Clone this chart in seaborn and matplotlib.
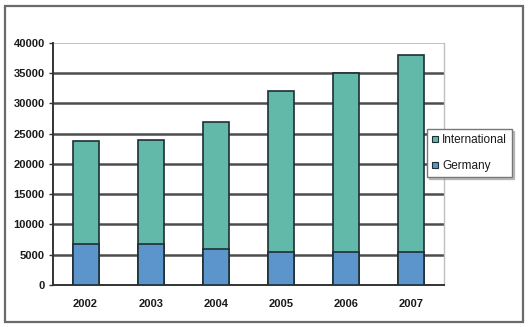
import matplotlib
matplotlib.use("Agg")
import matplotlib.pyplot as plt
from matplotlib.lines import Line2D
from matplotlib.patches import Rectangle
import seaborn as sns
import pandas as pd

years = ["2002", "2003", "2004", "2005", "2006", "2007"]
germany = [6800, 6800, 5900, 5400, 5400, 5400]
international = [16900, 17200, 21000, 26600, 29600, 32600]
series_names = ["International", "Germany"]
y_ticks = [0, 5000, 10000, 15000, 20000, 25000, 30000, 35000, 40000]

teal = "#62b9a9"
blue = "#5b95cb"
edge = "#1e2f33"

sns.set_style("white")
plt.rcParams['font.family'] = ['Liberation Sans', 'DejaVu Sans']

df = pd.DataFrame({"year": years, "germany": germany, "international": international})
df["total"] = df["germany"] + df["international"]

fig = plt.figure(figsize=(5.29, 3.27), dpi=100)
ax = fig.add_axes([53/529, 1-285/327, (444-53)/529, (285-42.7)/327])

sns.barplot(data=df, x="year", y="total", order=years, color=teal, width=0.4,
            edgecolor=edge, linewidth=1.2, ax=ax, zorder=3, saturation=1)
sns.barplot(data=df, x="year", y="germany", order=years, color=blue, width=0.4,
            edgecolor=edge, linewidth=1.2, ax=ax, zorder=4, saturation=1)

ax.set_ylim(0, 40000)
ax.set_xlim(-0.5, 5.5)
ax.set_yticks(y_ticks)
ax.set_yticklabels([str(v) for v in y_ticks], fontsize=8, color="#1a1a1a", fontweight="bold")
ax.set_xticks(range(len(years)))
ax.set_xticklabels(years, fontsize=8, color="#1a1a1a", fontweight="bold")
ax.set_xticks([i - 0.5 for i in range(len(years) + 1)], minor=True)
ax.tick_params(axis="x", which="major", length=0, pad=10)
ax.tick_params(axis="x", which="minor", length=3, width=1, color="#333", direction="out")
ax.tick_params(axis="y", length=3, width=1, color="#333", direction="out", pad=3, left=True)
ax.set_xlabel("")
ax.set_ylabel("")

ax.grid(axis="y", color="#4d4d4d", linewidth=1.8, zorder=0)
ax.set_axisbelow(True)
gl = ax.get_ygridlines()
gl[-1].set_color("#b8b8b8")
gl[-1].set_linewidth(1.2)
gl[0].set_visible(False)

for s in ["left", "bottom"]:
    ax.spines[s].set_color("#333")
    ax.spines[s].set_linewidth(1.4)
ax.spines["top"].set_visible(False)
ax.spines["right"].set_visible(True)
ax.spines["right"].set_color("#c0c0c0")
ax.spines["right"].set_linewidth(1.0)

handles = [
    Line2D([], [], linestyle="none", marker="s", markersize=5,
           markerfacecolor=teal, markeredgecolor=edge, markeredgewidth=0.8),
    Line2D([], [], linestyle="none", marker="s", markersize=5,
           markerfacecolor=blue, markeredgecolor=edge, markeredgewidth=0.8),
]
leg = fig.legend(handles, series_names, loc="upper left",
                 bbox_to_anchor=(427/529, 1-129/327), fontsize=8.5,
                 frameon=True, fancybox=False,
                 shadow={"color": "#999999", "alpha": 0.6, "ox": 1.5, "oy": -1.5},
                 handlelength=0.6, handletextpad=0.3, borderpad=0.4,
                 labelspacing=1.25, borderaxespad=0)
leg.get_frame().set_edgecolor("#777")
leg.get_frame().set_linewidth(1.0)
for t in leg.get_texts():
    t.set_color("#1a1a1a")

fig.patches.append(Rectangle((5/529, 1-322/327), (523-5)/529, (322-6)/327,
                             transform=fig.transFigure, fill=False,
                             edgecolor="#6a6a6a", linewidth=1.6))

fig.savefig("out.png", dpi=100)
